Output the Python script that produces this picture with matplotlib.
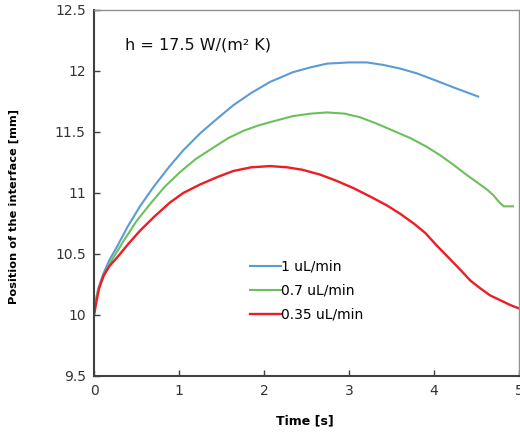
import matplotlib

matplotlib.use("Agg")
import matplotlib.pyplot as plt

# Values.
t_1 = [0.0, 0.02, 0.05, 0.11, 0.18, 0.27, 0.4, 0.54, 0.7, 0.89, 1.05, 1.25, 1.45, 1.64,
       1.85, 2.07, 2.34, 2.55, 2.74, 3.0, 3.21, 3.4, 3.6, 3.8, 3.99, 4.25, 4.52]
pos_1 = [10.06, 10.12, 10.22, 10.34, 10.45, 10.56, 10.73, 10.89, 11.05, 11.22, 11.35, 11.49,
         11.61, 11.72, 11.82, 11.91, 11.99, 12.03, 12.06, 12.07, 12.07, 12.05, 12.02, 11.98,
         11.93, 11.86, 11.79]

t_07 = [0.0, 0.02, 0.05, 0.11, 0.2, 0.35, 0.5, 0.66, 0.83, 1.01, 1.2, 1.40, 1.58, 1.76,
        1.92, 2.07, 2.34, 2.55, 2.74, 2.95, 3.13, 3.32, 3.52, 3.72, 3.91, 4.07, 4.23, 4.38,
        4.54, 4.62, 4.70, 4.76, 4.82, 4.93]
pos_07 = [10.04, 10.12, 10.21, 10.31, 10.44, 10.61, 10.77, 10.91, 11.05, 11.17, 11.28, 11.37,
          11.45, 11.51, 11.55, 11.58, 11.63, 11.65, 11.66, 11.65, 11.62, 11.57, 11.51, 11.45,
          11.38, 11.31, 11.23, 11.15, 11.07, 11.03, 10.98, 10.93, 10.89, 10.89]

t_035 = [0.0, 0.03, 0.06, 0.11, 0.18, 0.27, 0.4, 0.54, 0.7, 0.89, 1.05, 1.25, 1.45, 1.64,
         1.85, 2.07, 2.27, 2.45, 2.66, 2.85, 3.05, 3.25, 3.44, 3.6, 3.76, 3.9, 4.03, 4.17,
         4.31, 4.43, 4.54, 4.66, 4.78, 4.9, 5.01]
pos_035 = [10.0, 10.12, 10.22, 10.32, 10.40, 10.47, 10.58, 10.69, 10.80, 10.92, 11.00, 11.07,
           11.13, 11.18, 11.21, 11.22, 11.21, 11.19, 11.15, 11.10, 11.04, 10.97, 10.90, 10.83,
           10.75, 10.67, 10.57, 10.47, 10.37, 10.28, 10.22, 10.16, 10.12, 10.08, 10.05]

series_labels = ["1 uL/min", "0.7 uL/min", "0.35 uL/min"]
x_ticks = [0, 1, 2, 3, 4, 5]
y_ticks = [9.5, 10, 10.5, 11, 11.5, 12, 12.5]

fig = plt.figure(figsize=(5.2, 4.34), dpi=100)
ax = fig.add_axes([0.181, 0.134, 0.817, 0.843])

ax.plot(t_1, pos_1, color="#5B9BD5", lw=1.5, label=series_labels[0])
ax.plot(t_07, pos_07, color="#6CC05C", lw=1.5, label=series_labels[1])
ax.plot(t_035, pos_035, color="#EE1C24", lw=1.7, label=series_labels[2])

ax.set_xlim(0, 5)
ax.set_ylim(9.5, 12.5)
ax.set_xticks(x_ticks)
ax.set_yticks(y_ticks)
ax.set_yticklabels([f"{v:g}" for v in y_ticks])
ax.tick_params(direction="in", length=4, width=1, color="#404040",
               labelsize=10, labelcolor="#333333", pad=6)

for side in ("left", "bottom"):
    ax.spines[side].set_color("#404040")
    ax.spines[side].set_linewidth(1.5)
for side in ("top", "right"):
    ax.spines[side].set_color("#909090")
    ax.spines[side].set_linewidth(1.0)

ax.set_xlabel("Time [s]", fontsize=9, fontweight="bold")
ax.xaxis.set_label_coords(0.497, -0.105)
ax.set_ylabel("Position of the interface [mm]", fontsize=8.2, fontweight="bold")
ax.yaxis.set_label_coords(-0.176, 0.462)

ax.text(0.073, 0.891, "h = 17.5 W/(m² K)", transform=ax.transAxes, fontsize=11.5,
        color="#111111", va="baseline")

ax.legend(loc="upper left", bbox_to_anchor=(0.355, 0.333), frameon=False, fontsize=10,
          handlelength=2.2, handletextpad=0.0, labelspacing=0.72, borderaxespad=0)

fig.savefig("out.png", dpi=100, facecolor="white")
